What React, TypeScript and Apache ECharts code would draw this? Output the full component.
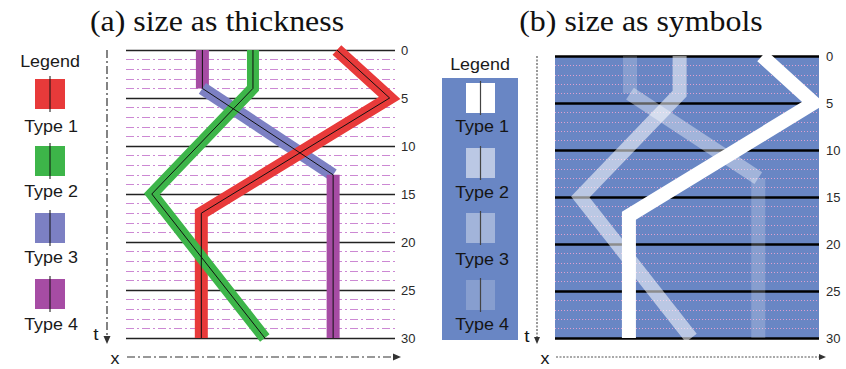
import React, { useEffect, useRef } from "react";
import * as echarts from "echarts";

// ---- data (x position in % of track width, t in time units) ----
const tTicks = [0, 5, 10, 15, 20, 25, 30];
const type1Path: [number, number][] = [[78.4, 0], [98, 5], [28, 17], [28, 30]];
const type2Path: [number, number][] = [[47.2, 0], [47.2, 4], [9.6, 15], [51.6, 30]];
const type3Path: [number, number][] = [[28.4, 4], [77, 13]];
const type4TopPath: [number, number][] = [[28.4, 0], [28.4, 4]];
const type4BottomPath: [number, number][] = [[77, 13], [77, 30]];
const type34Path: [number, number][] = [[28.4, 0], [28.4, 4], [77, 13], [77, 30]];
const legendLabels = ["Type 1", "Type 2", "Type 3", "Type 4"];
const typeColors = ["#e83a3a", "#3db549", "#7c80c3", "#a64ca4"];
const symbolOpacity = [1, 0.55, 0.38, 0.2];
const titles = ["(a) size as thickness", "(b) size as symbols"];

const BLUE = "#6986c4";

export default function App() {
  const ref = useRef<HTMLDivElement>(null);
  useEffect(() => {
    document.body.style.margin = "0";
    const chart = echarts.init(ref.current!, undefined, { renderer: "svg" });

    const yAxisBase = (grid: number, major: any, minor: any, labelMargin: number) => ({
      gridIndex: grid,
      type: "value",
      min: 0,
      max: 30,
      interval: 5,
      inverse: true,
      position: "right",
      axisLine: { show: false },
      axisTick: { show: false },
      axisLabel: { margin: labelMargin, color: "#2a2a2a", fontSize: 13, fontFamily: "Arial" },
      splitLine: { show: true, lineStyle: major },
      minorTick: { show: false, splitNumber: 5 },
      minorSplitLine: { show: true, lineStyle: minor },
    });

    const line = (grid: number, data: any, color: string, width: number, opacity = 1, z = 2) => ({
      type: "line",
      xAxisIndex: grid,
      yAxisIndex: grid,
      data,
      symbol: "none",
      silent: true,
      z,
      lineStyle: { color, width, opacity, cap: "butt", join: "miter" },
    });

    const sansFont = "Arial";
    const serifFont = "Times New Roman";
    const txt = (x: number, y: number, text: string, size: number, scaleX = 1.12, font = sansFont, color = "#1a1a1a") => ({
      type: "text",
      x,
      y,
      scaleX,
      style: { text, fontSize: size, fontFamily: font, fill: color, textAlign: "center", textVerticalAlign: "middle" },
      z: 10,
    });

    const graphics: any[] = [];
    graphics.push(txt(217, 21, titles[0], 29, 1.1, serifFont, "#111"));
    graphics.push(txt(641, 21, titles[1], 29, 1.1, serifFont, "#111"));

    // legend (a)
    graphics.push(txt(50, 62, "Legend", 16));
    const sqY = [79, 146, 213, 279];
    const lblY = [127, 192, 258, 325];
    for (let i = 0; i < 4; i++) {
      graphics.push({ type: "rect", shape: { x: 35, y: sqY[i], width: 30, height: 30 }, style: { fill: typeColors[i] }, z: 5 });
      graphics.push({ type: "line", shape: { x1: 50, y1: sqY[i] - 3, x2: 50, y2: sqY[i] + 33 }, style: { stroke: "#111", lineWidth: 1 }, z: 6 });
      graphics.push(txt(51, lblY[i], legendLabels[i], 16));
    }
    // legend (b)
    graphics.push(txt(480, 65, "Legend", 16));
    graphics.push({ type: "rect", shape: { x: 442, y: 78, width: 76, height: 262 }, style: { fill: BLUE }, z: 4 });
    const sqYb = [83, 148, 213, 280];
    const lblYb = [127, 193, 260, 325];
    for (let i = 0; i < 4; i++) {
      graphics.push({ type: "rect", shape: { x: 466, y: sqYb[i], width: 29, height: 30 }, style: { fill: "#ffffff", opacity: symbolOpacity[i] }, z: 5 });
      graphics.push({ type: "line", shape: { x1: 480.5, y1: sqYb[i] - 2, x2: 480.5, y2: sqYb[i] + 32 }, style: { stroke: "#444", lineWidth: 1.2 }, z: 6 });
      graphics.push(txt(482, lblYb[i], legendLabels[i], 16, 1.12, sansFont, "#151515"));
    }

    // axis arrows (a)
    graphics.push({ type: "line", shape: { x1: 107, y1: 50, x2: 107, y2: 337 }, style: { stroke: "#333", lineWidth: 1.2, lineDash: [8, 3, 2, 3] }, z: 5 });
    graphics.push({ type: "polygon", shape: { points: [[103.5, 336], [110.5, 336], [107, 344]] }, style: { fill: "#333" }, z: 5 });
    graphics.push({ type: "line", shape: { x1: 127, y1: 357, x2: 394, y2: 357 }, style: { stroke: "#333", lineWidth: 1.2, lineDash: [8, 3, 2, 3] }, z: 5 });
    graphics.push({ type: "polygon", shape: { points: [[393, 353.5], [393, 360.5], [401, 357]] }, style: { fill: "#333" }, z: 5 });
    graphics.push(txt(96, 334, "t", 17));
    graphics.push(txt(115, 359, "x", 16));
    // axis arrows (b)
    graphics.push({ type: "line", shape: { x1: 537, y1: 56, x2: 537, y2: 338 }, style: { stroke: "#555", lineWidth: 1.2, lineDash: [2, 1.5] }, z: 5 });
    graphics.push({ type: "polygon", shape: { points: [[534, 337], [540, 337], [537, 344]] }, style: { fill: "#333" }, z: 5 });
    graphics.push({ type: "line", shape: { x1: 556, y1: 357, x2: 820, y2: 357 }, style: { stroke: "#555", lineWidth: 1.2, lineDash: [2, 1.5] }, z: 5 });
    graphics.push({ type: "polygon", shape: { points: [[819, 354], [819, 360], [826, 357]] }, style: { fill: "#333" }, z: 5 });
    graphics.push(txt(527, 336, "t", 17, 1.12, sansFont, "#151515"));
    graphics.push(txt(545, 359, "x", 16, 1.12, sansFont, "#151515"));

    const option: any = {
      animation: false,
      grid: [
        { left: 126, top: 50, width: 269, height: 288, show: false },
        { left: 555, top: 56, width: 264, height: 282, show: true, backgroundColor: BLUE, borderWidth: 0 },
      ],
      xAxis: [
        { gridIndex: 0, type: "value", min: 0, max: 100, show: false },
        { gridIndex: 1, type: "value", min: 0, max: 100, show: false },
      ],
      yAxis: [
        yAxisBase(0, { color: "#222", width: 1.3 }, { color: "#cc88d3", width: 1, type: [8, 3, 2, 3] }, 6),
        yAxisBase(1, { color: "#000", width: 2.5 }, { color: "rgba(245,165,210,0.85)", width: 1, type: [1, 2] }, 7),
      ],
      series: [
        // panel (a)
        line(0, type4TopPath, typeColors[3], 13, 1, 2),
        line(0, type3Path, typeColors[2], 13, 1, 2),
        line(0, type4BottomPath, typeColors[3], 13, 1, 2),
        line(0, type1Path, typeColors[0], 13, 1, 3),
        line(0, type2Path, typeColors[1], 12, 1, 4),
        line(0, type34Path, "#111", 1, 1, 6),
        line(0, type1Path, "#111", 1, 1, 6),
        line(0, type2Path, "#111", 1, 1, 6),
        // panel (b)
        line(1, type4TopPath, "#ffffff", 14, symbolOpacity[3], 3),
        line(1, type4BottomPath, "#ffffff", 14, symbolOpacity[3], 3),
        line(1, type3Path, "#ffffff", 14, symbolOpacity[2], 3),
        line(1, type2Path, "#ffffff", 14, symbolOpacity[1], 3),
        line(1, type1Path, "#ffffff", 14, symbolOpacity[0], 4),
      ],
      graphic: graphics,
    };
    chart.setOption(option);
    return () => chart.dispose();
  }, []);
  return <div ref={ref} style={{ width: 846, height: 369 }} />;
}
